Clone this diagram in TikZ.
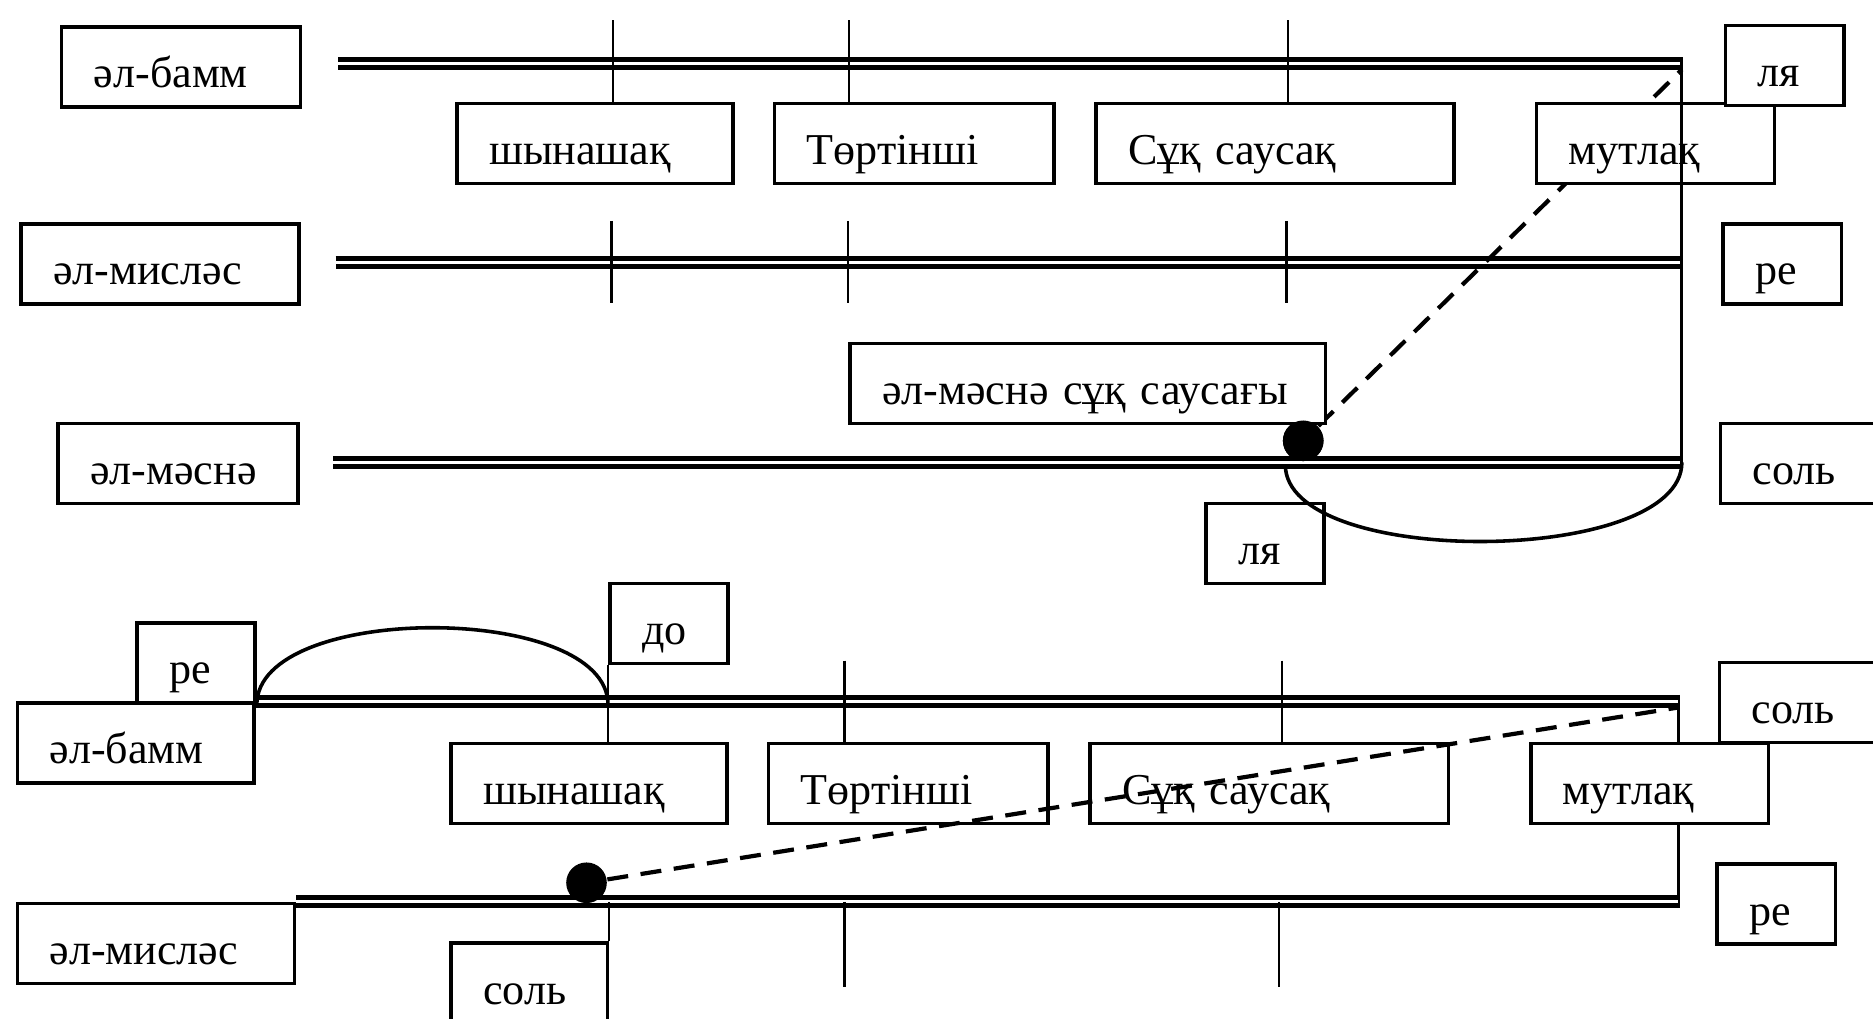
\documentclass[tikz,border=0pt]{standalone}
\usepackage{fontspec}
\setmainfont{Liberation Serif}
\usetikzlibrary{positioning}

\begin{document}
\begin{tikzpicture}[
  x=0.1mm, y=0.1mm,
  box/.style={rectangle,draw,line width=0.85pt,fill=white,anchor=north west,
    inner xsep=2.7mm,inner ysep=0pt,minimum height=6.7mm,text width=#1,align=left,
    text height=10pt,text depth=0pt,font=\fontsize{10.5}{12}\selectfont},
  notebox/.style={box=4.5mm},
  strg/.style={line width=1.2pt,double,double distance=0.7pt},
  fret/.style={line width=0.55pt},
  vline/.style={line width=0.7pt},
  dashln/.style={line width=1pt,dash pattern=on 5pt off 3pt},
  arcln/.style={line width=0.85pt},
  dot/.style={circle,fill=black,minimum size=3.4mm,inner sep=0pt},
  node distance=3.2mm]
  \useasboundingbox (0,0) rectangle (1568,-853);

  % upper diagram
  \coordinate (s1a) at (283,-53);  \coordinate (s1b) at (1408,-53);
  \coordinate (s2a) at (281,-220); \coordinate (s2b) at (1408,-220);
  \coordinate (s3a) at (279,-387); \coordinate (s3b) at (1408,-387);
  \coordinate (arcA) at (1076,-389);
  \draw[strg] (s1a) -- (s1b);
  \draw[strg] (s2a) -- (s2b);
  \draw[strg] (s3a) -- (s3b);
  \node[dot] (dotA) at (1091,-369) {};
  \draw[dashln] (dotA) -- ([yshift=-1.5pt]s1b);

  \node[box=14.6mm] (bammA) at (50,-21) {әл-бамм};
  \node[box=17.7mm] (shynA) at (381,-85) {шынашақ};
  \node[box=18.0mm,right=of shynA] (tortA) {Төртінші};
  \node[box=24.6mm,right=of tortA] (sukA) {Сұқ саусақ};
  \node[box=14.5mm,right=6.6mm of sukA] (mutA) {мутлақ};
  \node[notebox] (lyaA) at (1443,-20) {ля};
  \node[box=17.9mm] (misA) at (16,-186) {әл-мисләс};
  \node[notebox] (reA) at (1441,-186) {ре};
  \node[box=34.4mm] (snsA) at (710,-286) {әл-мәснә сұқ саусағы};
  \node[box=14.7mm] (masA) at (47,-353) {әл-мәснә};
  \node[box=8.1mm] (solA) at (1439,-353) {соль};
  \node[notebox] (lyaB) at (1008,-420) {ля};

  \foreach \x/\b in {513/shynA,711/tortA,1078/sukA}
    \draw[fret] (\x,-17) -- (\x,0 |- \b.north);
  \foreach \x in {512,710,1077}
    \draw[fret] (\x,-185) -- (\x,-254);
  \draw[vline] ([yshift=1.5pt]s1b) -- ([yshift=-1.5pt]s3b);
  \draw[arcln] (arcA) to[out=-90,in=-90,looseness=0.67] (s3b);
  \node[dot] at (dotA) {};

  % lower diagram
  \coordinate (s4b) at (1405,-587);
  \coordinate (s5b) at (1405,-755);
  \draw[vline] ([yshift=1.5pt]s4b) -- ([yshift=-1.5pt]s5b);

  \node[notebox] (reB) at (113,-520) {ре};
  \node[notebox] (doB) at (509,-487) {до};
  \node[box=14.4mm] (bammB) at (13,-587) {әл-бамм};
  \node[box=17.7mm] (shynB) at (376,-621) {шынашақ};
  \node[box=18.0mm,right=of shynB] (tortB) {Төртінші};
  \node[box=24.6mm,right=of tortB] (sukB) {Сұқ саусақ};
  \node[box=14.5mm,right=6.6mm of sukB] (mutB) {мутлақ};
  \node[box=8.1mm] (solB) at (1438,-553) {соль};
  \node[box=17.8mm] (misB) at (13,-755) {әл-мисләс};
  \node[notebox] (reC) at (1436,-722) {ре};
  \node[box=7.7mm] (solC) at (376,-788) {соль};

  \draw[strg] (bammB.north east) -- (s4b);
  \draw[strg] (misB.north east) -- (s5b);
  \draw[fret] (doB.south west) -- (doB.south west |- shynB.north);
  \foreach \x/\b in {707/tortB,1073/sukB}
    \draw[fret] (\x,-553) -- (\x,0 |- \b.north);
  \draw[fret] (solC.north east |- s5b) -- (solC.north east);
  \foreach \x in {707,1071}
    \draw[fret] (\x,-755) -- (\x,-826);
  \draw[arcln] (reB.south east) to[out=90,in=90,looseness=0.75] (doB.south west |- reB.south east);
  \node[dot] (dotB) at (491,-739) {};
  \draw[dashln] (dotB) -- ([yshift=-1.5pt]s4b);
\end{tikzpicture}
\end{document}
